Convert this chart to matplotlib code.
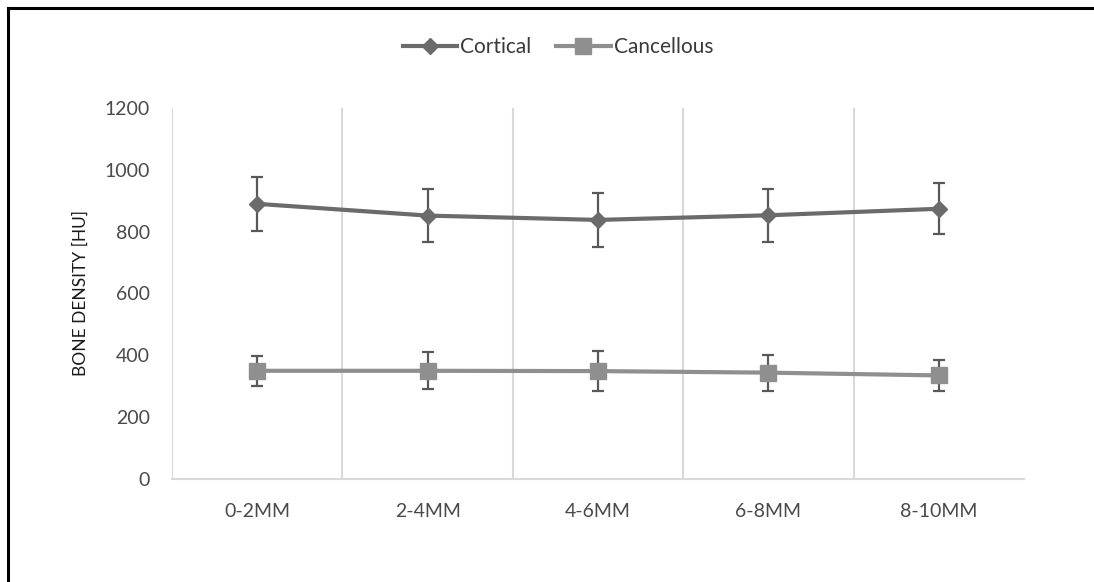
import matplotlib
matplotlib.use("Agg")
import matplotlib.pyplot as plt
from matplotlib.lines import Line2D

categories = ["0-2MM", "2-4MM", "4-6MM", "6-8MM", "8-10MM"]
cortical = [890, 852, 838, 853, 874]
cortical_err = [88, 87, 87, 85, 83]
cancellous = [350, 350, 349, 344, 335]
cancellous_err = [49, 60, 65, 58, 51]
yticks = [0, 200, 400, 600, 800, 1000, 1200]

plt.rcParams['font.family'] = ['Lato', 'DejaVu Sans']

fig = plt.figure(figsize=(10.94, 5.82), dpi=100)
ax = fig.add_axes([172/1094, 1-479/582, (1024-172)/1094, (479-108)/582])

x = list(range(len(categories)))
c_cort = "#6b6b6b"
c_canc = "#8f8f8f"
c_err = "#595959"

ax.errorbar(x, cortical, yerr=cortical_err, color=c_cort, lw=3.0, marker='D', ms=8.5,
            ecolor=c_err, elinewidth=1.6, capsize=4.6, capthick=1.6, zorder=3)
ax.errorbar(x, cancellous, yerr=cancellous_err, color=c_canc, lw=3.0, marker='s', ms=12,
            ecolor=c_err, elinewidth=1.6, capsize=4.6, capthick=1.6, zorder=3)

ax.set_xlim(-0.5, len(categories) - 0.5)
ax.set_ylim(0, 1200)
ax.set_yticks(yticks)
ax.set_xticks(x)
ax.set_xticklabels(categories)
for b in [i - 0.5 for i in range(len(categories))]:
    ax.axvline(b, color="#d9d9d9", lw=1.5, zorder=1)
for s in ["top", "right", "left"]:
    ax.spines[s].set_visible(False)
ax.spines["bottom"].set_color("#d9d9d9")
ax.spines["bottom"].set_linewidth(1.5)
ax.tick_params(axis='both', length=0, labelsize=14, colors="#4a4a4a")
ax.tick_params(axis='y', pad=16)
ax.tick_params(axis='x', pad=17)
ax.set_ylabel("BONE DENSITY [HU]", fontsize=12.5, color="#1a1a1a", labelpad=11)

handles = [Line2D([], [], color=c_cort, lw=3.0, marker='D', ms=8.5),
           Line2D([], [], color=c_canc, lw=3.0, marker='s', ms=12)]
fig.legend(handles, ["Cortical", "Cancellous"], loc='center', bbox_to_anchor=(558/1094, 1-47/582),
           ncol=2, frameon=False, fontsize=15, handlelength=2.6, columnspacing=1.2,
           handletextpad=0.15, labelcolor="#3a3a3a")

# frame (top and left edges)
fig.add_artist(Line2D([8/1094, 1093/1094], [1-7.5/582, 1-7.5/582], color="black", lw=2.2, transform=fig.transFigure))
fig.add_artist(Line2D([8/1094, 8/1094], [0.0, 1-7.5/582], color="black", lw=2.2, transform=fig.transFigure))

fig.savefig("out.png", dpi=100)
